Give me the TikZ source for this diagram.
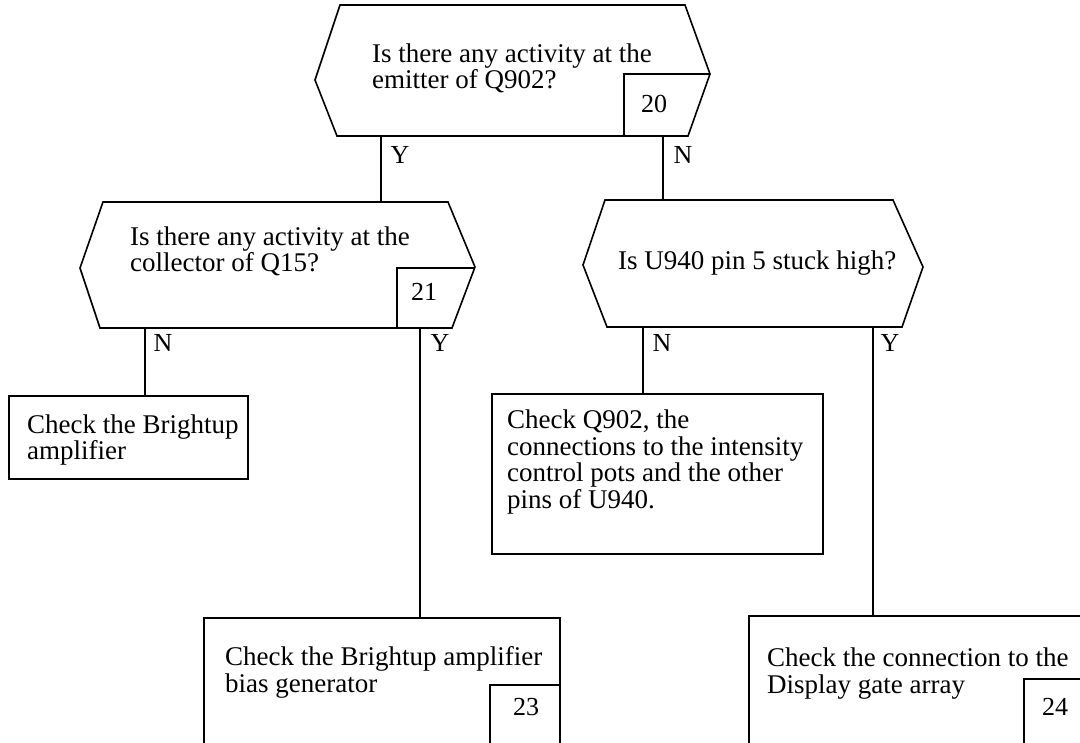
\documentclass[tikz,border=0pt]{standalone}
\usepackage{fontspec}
\setmainfont{Liberation Serif}
\begin{document}
\begin{tikzpicture}[x=1pt,y=-1pt,
  conn/.style={line width=2.4pt},
  outline/.style={line width=1.6pt},
  txt/.style={anchor=base west, inner sep=0pt, align=left, font=\fontsize{27}{26.5}\selectfont},
  lbl/.style={inner sep=0pt, font=\fontsize{26}{26}\selectfont},
  numtxt/.style={inner sep=0pt, font=\fontsize{26}{26}\selectfont},
  actbox/.style={draw, outline, rectangle, anchor=north west, inner sep=0pt},
]
\useasboundingbox (0,0) rectangle (1080,743);
\clip (0,0) rectangle (1080,743);

% ---- hexagon 20 ----
\draw[outline] (340,5) -- (685,5) -- (710,74) -- (688,136) -- (337,136) -- (315,80) -- cycle;
\node[txt] (q20) at (372,89) {Is there any activity at the\\emitter of Q902?};
\draw[outline] (624,136) -- (624,74) -- (710,74);
\node[numtxt] (n20) at (654,104) {20};

% ---- hexagon 21 ----
\draw[outline] (103,202) -- (448,202) -- (475,267) -- (452,328) -- (100,328) -- (80,268) -- cycle;
\node[txt] (q21) at (130,272) {Is there any activity at the\\collector of Q15?};
\draw[outline] (397,328) -- (397,268) -- (475,268);
\node[numtxt] (n21) at (424,292) {21};

% ---- hexagon 22 ----
\draw[outline] (605,200) -- (893,200) -- (923,267) -- (902,327) -- (607,327) -- (583,265) -- cycle;
\node[txt] (q22) at (618,270) {Is U940 pin 5 stuck high?};

% ---- action boxes ----
\node[actbox, minimum width=239pt, minimum height=83pt] (bBright) at (8,395) {};
\node[txt] (tBright) at (27,460) {Check the Brightup\\amplifier};

\node[actbox, minimum width=331pt, minimum height=160pt] (bQ) at (491,393) {};
\node[txt] (tQ) at (507,508) {Check Q902, the\\connections to the intensity\\control pots and the other\\pins of U940.};

\node[actbox, minimum width=356pt, minimum height=150pt] (b23) at (203,617) {};
\node[txt] (t23) at (225,692) {Check the Brightup amplifier\\bias generator};
\draw[outline] (490,760) -- (490,685) -- (559,685);
\node[numtxt] (n23) at (526,707) {23};

\node[actbox, minimum width=360pt, minimum height=150pt] (b24) at (748,615) {};
\node[txt] (t24) at (767,693) {Check the connection to the\\Display gate array};
\draw[outline] (1024,760) -- (1024,679) -- (1090,679);
\node[numtxt] (n24) at (1055,707) {24};

% ---- connection points ----
\coordinate (h20Y) at (381,136);
\coordinate (h20N) at (663,136);
\coordinate (h21top) at (381,202);
\coordinate (h22top) at (663,200);
\coordinate (h21N) at (145,328);
\coordinate (h21Y) at (420,328);
\coordinate (h22N) at (643,327);
\coordinate (h22Y) at (873,327);

\draw[conn] (h20Y) -- (h21top);
\draw[conn] (h20N) -- (h22top);
\draw[conn] (h21N) -- (h21N |- bBright.north);
\draw[conn] (h21Y) -- (h21Y |- b23.north);
\draw[conn] (h22N) -- (h22N |- bQ.north);
\draw[conn] (h22Y) -- (h22Y |- b24.north);

% ---- labels ----
\node[lbl] (lY20) at (400,155) {Y};
\node[lbl] (lN20) at (683,155) {N};
\node[lbl] (lN21) at (163,343) {N};
\node[lbl] (lY21) at (440,343) {Y};
\node[lbl] (lN22) at (662,343) {N};
\node[lbl] (lY22) at (890,343) {Y};
\end{tikzpicture}
\end{document}
